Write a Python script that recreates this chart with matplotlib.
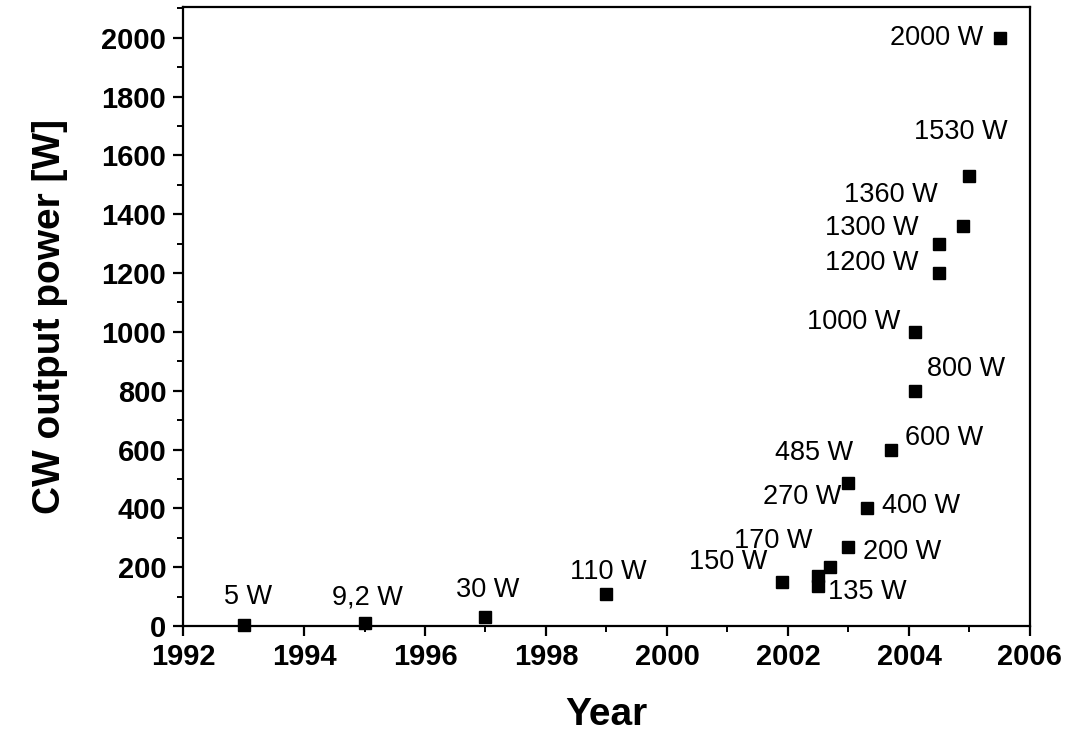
import numpy as np
import matplotlib
matplotlib.use("Agg")
import matplotlib.pyplot as plt
from matplotlib.ticker import MultipleLocator

plt.rcParams['font.family'] = ['Liberation Sans', 'DejaVu Sans']

# record CW output power per year
years = [1993, 1995, 1997, 1999, 2001.9, 2002.5, 2002.5, 2002.7, 2003.0,
         2003.3, 2003.0, 2003.7, 2004.1, 2004.1, 2004.5, 2004.5, 2004.9,
         2005.0, 2005.5]
power = [5, 9.2, 30, 110, 150, 135, 170, 200, 270,
         400, 485, 600, 800, 1000, 1200, 1300, 1360,
         1530, 2000]

# label placement next to each point (pixels: dx, dy, alignment)
label_pos = [(5, 28, 'center'), (3, 26, 'center'), (2, 27, 'center'),
             (2, 22, 'center'), (-15, 20, 'right'), (10, -6, 'left'),
             (-45, 35, 'center'), (33, 15, 'left'), (-7, 50, 'right'),
             (15, 2, 'left'), (5, 30, 'right'), (14, 12, 'left'),
             (12, 22, 'left'), (-15, 10, 'right'), (-21, 10, 'right'),
             (-21, 16, 'right'), (-26, 31, 'right'), (-9, 44, 'center'),
             (-16, 0, 'right')]

fig = plt.figure(figsize=(10.83, 7.37), dpi=100)
ax = fig.add_axes([0.169, 0.1506, 0.782, 0.84])

ax.plot(years, power, 's', color='black', markersize=8.5, clip_on=False, zorder=3)

px = 72 / 100
for x, y, (dx, dy, ha) in zip(years, power, label_pos):
    txt = f"{y:g}".replace('.', ',') + " W"
    ax.annotate(txt, (x, y), xytext=(dx * px, dy * px), textcoords='offset points',
                ha=ha, va='center', fontsize=19.5)

ax.set_xlim(1992, 2006)
ax.set_ylim(0, 2105)
ax.xaxis.set_major_locator(MultipleLocator(2))
ax.xaxis.set_minor_locator(MultipleLocator(1))
ax.yaxis.set_major_locator(MultipleLocator(200))
ax.yaxis.set_minor_locator(MultipleLocator(100))
ax.tick_params(which='major', direction='out', length=7, width=1.6, labelsize=21, pad=5)
ax.tick_params(which='minor', direction='out', length=4, width=1.4)
for lab in ax.get_xticklabels() + ax.get_yticklabels():
    lab.set_fontweight('bold')
for sp in ax.spines.values():
    sp.set_linewidth(1.6)

ax.set_xlabel('Year', fontsize=28, fontweight='bold', labelpad=19)
ax.set_ylabel('CW output power [W]', fontsize=28, fontweight='bold', labelpad=24)

fig.savefig('out.png', dpi=100)
